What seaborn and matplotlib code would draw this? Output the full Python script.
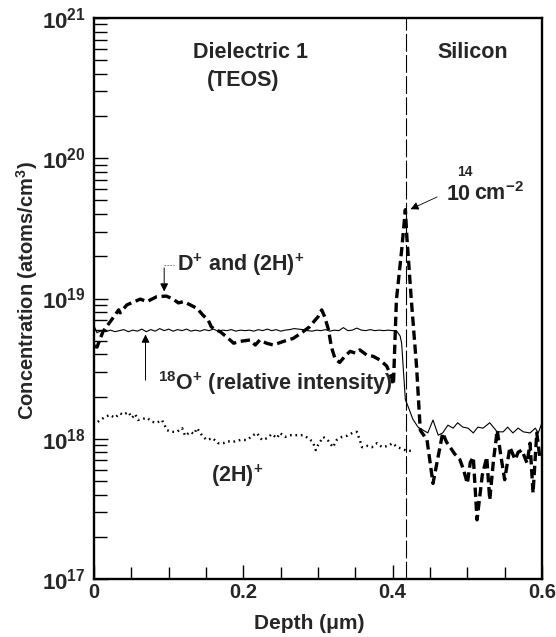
import numpy as np
import pandas as pd
import matplotlib
matplotlib.use("Agg")
import matplotlib.pyplot as plt
from matplotlib.ticker import FixedLocator, LogLocator, NullFormatter, FuncFormatter
import seaborn as sns

# ---- D+ and (2H)+ profile (bold dashed) ----
d_depth = [0.000, 0.004, 0.012, 0.028, 0.033, 0.035, 0.044, 0.062, 0.071, 0.084,
           0.097, 0.106, 0.113, 0.120, 0.129, 0.138, 0.146, 0.153, 0.157, 0.162,
           0.169, 0.178, 0.187, 0.196, 0.209, 0.216, 0.222, 0.231, 0.240, 0.254,
           0.267, 0.280, 0.289, 0.296, 0.300, 0.305, 0.309, 0.314, 0.318, 0.323,
           0.329, 0.336, 0.343, 0.350, 0.356, 0.365, 0.374, 0.383, 0.392, 0.399,
           0.401, 0.405, 0.412, 0.417, 0.419, 0.425, 0.432, 0.437, 0.446, 0.454,
           0.467, 0.472, 0.477, 0.483, 0.490, 0.495, 0.500, 0.504, 0.508, 0.513,
           0.520, 0.526, 0.530, 0.535, 0.540, 0.545, 0.550, 0.557, 0.564, 0.568,
           0.573, 0.580, 0.584, 0.588, 0.593, 0.597]
d_conc = [4.6e18, 4.5e18, 5.8e18, 7.6e18, 8.3e18, 7.9e18, 9.0e18, 9.9e18, 9.5e18, 1.03e19,
          1.04e19, 9.9e18, 9.3e18, 9.5e18, 9.0e18, 8.5e18, 7.6e18, 7.0e18, 6.3e18, 6.0e18,
          5.8e18, 5.3e18, 4.8e18, 4.95e18, 5.06e18, 4.66e18, 5.06e18, 4.8e18, 4.66e18, 4.95e18,
          5.2e18, 5.8e18, 6.3e18, 7.0e18, 7.4e18, 8.3e18, 7.4e18, 6.0e18, 4.5e18, 3.7e18,
          3.5e18, 3.87e18, 4.2e18, 4.08e18, 4.3e18, 3.96e18, 3.87e18, 3.64e18, 3.3e18, 2.7e18,
          2.42e18, 9.75e18, 2.2e19, 4.3e19, 2.75e19, 9.75e18, 3.27e18, 1.15e18, 9.8e17, 4.8e17,
          1.1e18, 9.5e17, 8.7e17, 7.8e17, 7.1e17, 6.0e17, 4.8e17, 6.8e17, 7.4e17, 2.64e17,
          5.5e17, 7.4e17, 3.66e17, 7.0e17, 1.15e18, 7.5e17, 5.1e17, 8.7e17, 7.1e17, 8.0e17,
          8.3e17, 6.7e17, 9.3e17, 4.1e17, 1.1e18, 7.4e17]

# ---- 18O+ relative intensity (thin solid) ----
o_depth = [0.000, 0.004, 0.010, 0.016, 0.022, 0.028, 0.034, 0.040, 0.046, 0.052,
           0.058, 0.064, 0.070, 0.076, 0.082, 0.088, 0.094, 0.100, 0.106, 0.112,
           0.118, 0.124, 0.130, 0.136, 0.142, 0.148, 0.154, 0.160, 0.166, 0.172,
           0.178, 0.184, 0.190, 0.196, 0.202, 0.208, 0.214, 0.220, 0.226, 0.232,
           0.238, 0.244, 0.250, 0.256, 0.262, 0.268, 0.274, 0.280, 0.286, 0.292,
           0.298, 0.304, 0.310, 0.316, 0.322, 0.328, 0.334, 0.340, 0.346, 0.352,
           0.358, 0.364, 0.370, 0.376, 0.382, 0.388, 0.394, 0.400, 0.405, 0.410,
           0.412, 0.414, 0.417, 0.421, 0.427, 0.434, 0.441, 0.447, 0.454, 0.461,
           0.467, 0.474, 0.481, 0.487, 0.494, 0.501, 0.508, 0.514, 0.521, 0.530,
           0.540, 0.548, 0.554, 0.561, 0.568, 0.575, 0.584, 0.591, 0.595, 0.600]
o_conc = [6.4e18, 5.7e18, 5.9e18, 5.8e18, 5.95e18, 5.8e18, 5.9e18, 6.0e18, 5.8e18, 5.95e18,
          5.85e18, 6.05e18, 5.8e18, 6.0e18, 5.85e18, 6.1e18, 5.9e18, 6.05e18, 5.85e18, 6.0e18,
          5.9e18, 6.05e18, 5.85e18, 5.95e18, 5.85e18, 6.0e18, 5.9e18, 6.05e18, 5.85e18, 5.95e18,
          5.9e18, 6.0e18, 5.85e18, 5.95e18, 5.9e18, 5.95e18, 5.85e18, 6.0e18, 5.9e18, 6.05e18,
          5.9e18, 6.0e18, 5.85e18, 5.95e18, 6.0e18, 6.1e18, 6.05e18, 6.0e18, 5.9e18, 5.85e18,
          5.95e18, 5.9e18, 6.0e18, 5.85e18, 5.95e18, 5.9e18, 6.2e18, 5.9e18, 5.95e18, 6.15e18,
          5.95e18, 5.9e18, 6.0e18, 5.9e18, 5.95e18, 5.9e18, 5.95e18, 5.9e18, 5.9e18, 5.4e18,
          4.8e18, 3.3e18, 1.9e18, 1.68e18, 1.38e18, 1.21e18, 1.15e18, 1.10e18, 1.36e18, 1.06e18,
          1.10e18, 1.25e18, 1.19e18, 1.30e18, 1.21e18, 1.19e18, 1.10e18, 1.21e18, 1.19e18, 1.30e18,
          1.12e18, 1.12e18, 1.21e18, 1.10e18, 1.19e18, 1.12e18, 1.10e18, 1.19e18, 1.10e18, 1.30e18]

# ---- (2H)+ profile (dotted) ----
h_depth = [0.005, 0.013, 0.021, 0.028, 0.035, 0.039, 0.046, 0.051, 0.055, 0.059,
           0.071, 0.078, 0.084, 0.091, 0.098, 0.104, 0.111, 0.118, 0.122, 0.129,
           0.134, 0.138, 0.145, 0.151, 0.159, 0.166, 0.173, 0.179, 0.186, 0.196,
           0.205, 0.212, 0.218, 0.225, 0.232, 0.238, 0.245, 0.249, 0.256, 0.262,
           0.272, 0.280, 0.287, 0.293, 0.297, 0.300, 0.307, 0.313, 0.320, 0.325,
           0.332, 0.339, 0.346, 0.352, 0.356, 0.359, 0.366, 0.372, 0.379, 0.386,
           0.394, 0.400, 0.406, 0.412, 0.419, 0.426]
h_conc = [1.32e18, 1.41e18, 1.48e18, 1.41e18, 1.52e18, 1.48e18, 1.55e18, 1.41e18, 1.50e18, 1.36e18,
          1.41e18, 1.32e18, 1.30e18, 1.36e18, 1.15e18, 1.12e18, 1.12e18, 1.19e18, 1.05e18, 1.12e18,
          1.08e18, 1.19e18, 1.05e18, 9.8e17, 1.01e18, 9.3e17, 9.3e17, 9.6e17, 9.5e17, 9.8e17,
          9.8e17, 1.05e18, 1.10e18, 9.8e17, 1.01e18, 1.08e18, 1.01e18, 1.10e18, 1.03e18, 1.06e18,
          1.06e18, 1.06e18, 1.01e18, 9.5e17, 8.3e17, 9.0e17, 1.03e18, 9.8e17, 8.7e17, 9.8e17,
          1.03e18, 1.05e18, 1.10e18, 1.12e18, 9.8e17, 8.7e17, 8.9e17, 8.7e17, 9.3e17, 8.7e17,
          8.9e17, 9.3e17, 8.7e17, 8.5e17, 8.2e17, 8.2e17]

interface_depth = 0.418
x_ticks = [0, 0.2, 0.4, 0.6]
x_tick_labels = ["0", "0.2", "0.4", "0.6"]

sns.set_style("white")
plt.rcParams["font.family"] = ["Liberation Sans", "DejaVu Sans"]
plt.rcParams["font.weight"] = "bold"
plt.rcParams["mathtext.fontset"] = "custom"
plt.rcParams["mathtext.rm"] = "Liberation Sans:bold"
plt.rcParams["mathtext.bf"] = "Liberation Sans:bold"
plt.rcParams["mathtext.it"] = "Liberation Sans:bold:italic"
plt.rcParams["mathtext.default"] = "rm"

fig = plt.figure(figsize=(5.56, 6.37), dpi=100)
ax = fig.add_axes([94 / 556, 1 - 579 / 637, 448 / 556, 561 / 637])

d_df = pd.DataFrame({"depth": d_depth, "conc": d_conc})
o_df = pd.DataFrame({"depth": o_depth, "conc": o_conc})
h_df = pd.DataFrame({"depth": h_depth, "conc": h_conc})

sns.lineplot(data=o_df, x="depth", y="conc", ax=ax, color="black", lw=0.8,
             sort=False, estimator=None)
sns.lineplot(data=h_df, x="depth", y="conc", ax=ax, color="black", lw=1.7,
             linestyle=(0, (0.7, 1.6)), sort=False, estimator=None)
sns.lineplot(data=d_df, x="depth", y="conc", ax=ax, color="black", lw=2.4,
             linestyle=(0, (2.8, 1.4)), sort=False, estimator=None)

ax.axvline(interface_depth, color="black", lw=0.8, linestyle=(0, (16, 3)))

ax.set_yscale("log")
ax.set_xlim(0, 0.6)
ax.set_ylim(1e17, 1e21)

ax.xaxis.set_major_locator(FixedLocator(x_ticks))
ax.set_xticklabels(x_tick_labels)
ax.xaxis.set_minor_locator(FixedLocator(np.arange(0.05, 0.6, 0.05)))
ax.yaxis.set_major_locator(LogLocator(base=10, numticks=10))
ax.yaxis.set_minor_locator(LogLocator(base=10, subs=np.arange(2, 10), numticks=20))
ax.yaxis.set_minor_formatter(NullFormatter())
ax.yaxis.set_major_formatter(FuncFormatter(lambda v, p: r"$10^{%d}$" % round(np.log10(v))))

ax.tick_params(axis="both", which="both", direction="in", color="black",
               bottom=True, left=True, top=False, right=False)
ax.tick_params(axis="both", which="major", length=10, width=1.0)
ax.tick_params(axis="y", which="major", pad=6, labelsize=16)
ax.tick_params(axis="x", which="major", pad=3, labelsize=14.5)
ax.tick_params(axis="both", which="minor", length=9, width=1.0)
for lab in ax.get_xticklabels() + ax.get_yticklabels():
    lab.set_fontweight("bold")

for side in ["left", "bottom", "right", "top"]:
    ax.spines[side].set_visible(True)
    ax.spines[side].set_color("black")
    ax.spines[side].set_linewidth(1.7)

ax.set_xlabel("Depth (\u03bcm)", fontsize=15, fontweight="bold")
ax.set_ylabel("Concentration (atoms/cm$^{3}$)", fontsize=14.5, fontweight="bold")
ax.xaxis.set_label_coords(0.48, -0.062)
ax.yaxis.set_label_coords(-0.12, 0.515)

txt = dict(fontsize=15.5, fontweight="bold", transform=ax.transAxes)
ax.text(0.350, 0.929, "Dielectric 1", ha="center", va="baseline", **txt)
ax.text(0.333, 0.879, "(TEOS)", ha="center", va="baseline", **txt)
ax.text(0.846, 0.929, "Silicon", ha="center", va="baseline", **txt)
# dose label: "14" sits above the "10"
ax.text(0.786, 0.676, "10", ha="left", va="baseline", **txt)
ax.text(0.810, 0.718, "14", ha="left", va="baseline", fontsize=10,
        fontweight="bold", transform=ax.transAxes)
ax.text(0.848, 0.676, "cm$^{-2}$", ha="left", va="baseline", **txt)
ax.text(0.185, 0.549, "D$^{+}$ and (2H)$^{+}$", ha="left", va="baseline", **txt)
ax.text(0.143, 0.337, "$^{18}$O$^{+}$ (relative intensity)", ha="left", va="baseline", **txt)
ax.text(0.319, 0.173, "(2H)$^{+}$", ha="center", va="baseline", **txt)

# arrow toward the implant peak
ax.annotate("", xy=(0.4205, 4.25e19), xytext=(0.463, 5.4e19),
            arrowprops=dict(arrowstyle="-|>", color="black", lw=0.6,
                            mutation_scale=12))
# D+ pointer with short leader
ax.plot([0.094, 0.107], [1.73e19, 1.73e19], color="0.4", lw=0.6,
        linestyle=(0, (2, 1.5)))
ax.annotate("", xy=(0.094, 1.07e19), xytext=(0.094, 1.73e19),
            arrowprops=dict(arrowstyle="-|>", color="black", lw=0.7,
                            mutation_scale=12))
# 18O pointer
ax.annotate("", xy=(0.069, 5.8e18), xytext=(0.069, 2.5e18),
            arrowprops=dict(arrowstyle="-|>", color="black", lw=0.7,
                            mutation_scale=12))

fig.savefig("out.png", dpi=100, facecolor="white")
